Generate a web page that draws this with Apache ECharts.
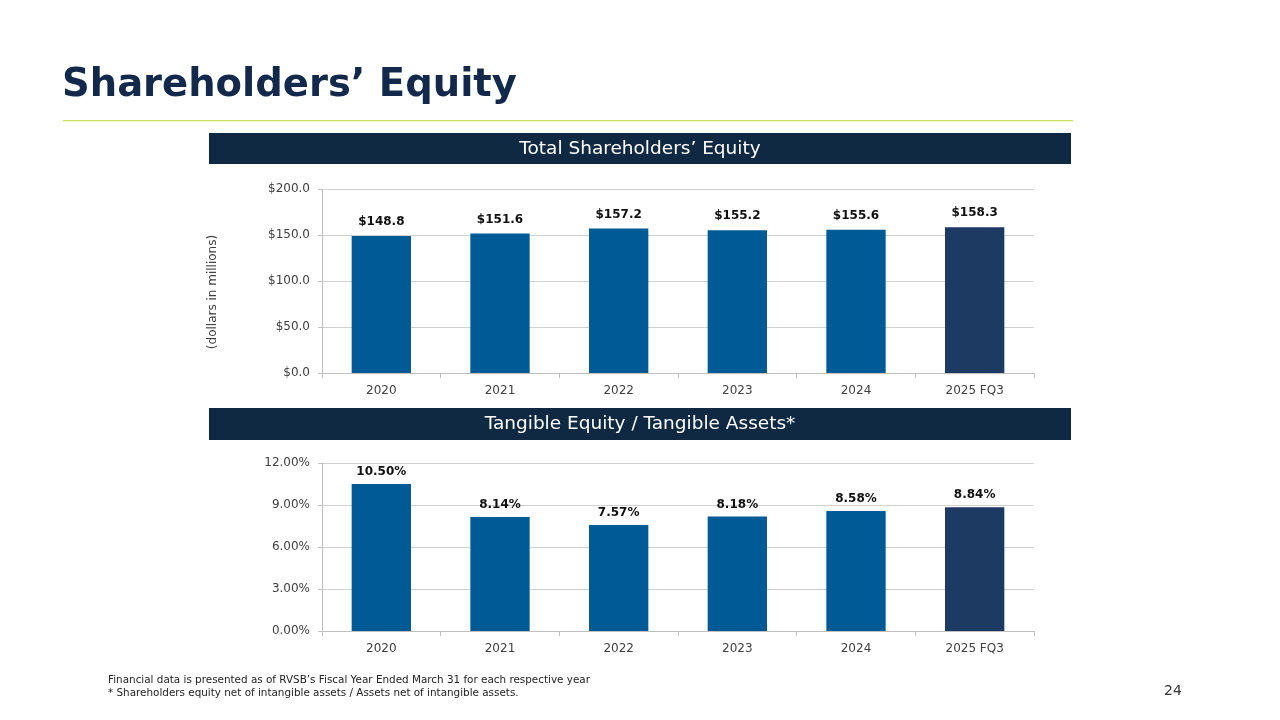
<!DOCTYPE html>
<html><head><meta charset="utf-8">
<script src="https://cdn.jsdelivr.net/npm/echarts@6/dist/echarts.min.js"></script>
<style>html,body{margin:0;padding:0;background:#fff}#c{width:1280px;height:720px}</style>
</head><body><div id="c"></div>
<script>
const categories = ['2020','2021','2022','2023','2024','2025 FQ3'];
const equityValues = [148.8, 151.6, 157.2, 155.2, 155.6, 158.3];
const tangibleRatio = [10.50, 8.14, 7.57, 8.18, 8.58, 8.84];
const equityTicks = [0, 50, 100, 150, 200];
const ratioTicks = [0, 3, 6, 9, 12];

const FONT = '"DejaVu Sans", sans-serif';
const barBlue = '#005A96';
const barNavy = '#1C3A62';
const axisGrey = '#BFBFBF';
const labelCol = '#404040';

function colorize(arr){
  return arr.map((v,i)=>({value:v, itemStyle:{color: i===arr.length-1?barNavy:barBlue}}));
}
const xAxisBase = {
  type:'category', data:categories,
  axisLine:{lineStyle:{color:axisGrey}},
  axisTick:{show:true, alignWithLabel:false, length:5, lineStyle:{color:axisGrey}},
  axisLabel:{color:labelCol, fontFamily:FONT, fontSize:12, margin:12}
};
const chart = echarts.init(document.getElementById('c'));
chart.setOption({
  animation:false,
  grid:[
    {left:322, right:246, top:189, height:184},
    {left:322, right:246, top:463, height:168}
  ],
  xAxis:[
    Object.assign({gridIndex:0}, xAxisBase),
    Object.assign({gridIndex:1}, xAxisBase)
  ],
  yAxis:[
    {gridIndex:0, type:'value', min:equityTicks[0], max:equityTicks[equityTicks.length-1], interval:50,
     axisLine:{show:true, lineStyle:{color:axisGrey}},
     axisTick:{show:true, length:4, lineStyle:{color:axisGrey}},
     splitLine:{lineStyle:{color:'#D0D0D0'}},
     axisLabel:{color:labelCol, fontFamily:FONT, fontSize:12, margin:12, formatter:v=>'$'+v.toFixed(1)}},
    {gridIndex:1, type:'value', min:ratioTicks[0], max:ratioTicks[ratioTicks.length-1], interval:3,
     axisLine:{show:true, lineStyle:{color:axisGrey}},
     axisTick:{show:true, length:4, lineStyle:{color:axisGrey}},
     splitLine:{lineStyle:{color:'#D0D0D0'}},
     axisLabel:{color:labelCol, fontFamily:FONT, fontSize:12, margin:12, formatter:v=>v.toFixed(2)+'%'}}
  ],
  series:[
    {type:'bar', xAxisIndex:0, yAxisIndex:0, data:colorize(equityValues), barWidth:'50%',
     label:{show:true, position:'top', distance:8, color:'#111', fontWeight:'bold', fontFamily:FONT, fontSize:12,
       formatter:p=>'$'+p.value.toFixed(1)}},
    {type:'bar', xAxisIndex:1, yAxisIndex:1, data:colorize(tangibleRatio), barWidth:'50%',
     label:{show:true, position:'top', distance:6, color:'#111', fontWeight:'bold', fontFamily:FONT, fontSize:12,
       formatter:p=>p.value.toFixed(2)+'%'}}
  ],
  graphic:[
    {type:'text', left:62, top:66, style:{text:'Shareholders\u2019 Equity', fill:'#13294B', font:'bold 38.5px '+FONT}},
    {type:'rect', shape:{x:63, y:120, width:1010, height:1.2}, style:{fill:'#C9DF5A'}},
    {type:'rect', shape:{x:209, y:133, width:862, height:31}, style:{fill:'#0F2942'}},
    {type:'text', x:640, y:149, style:{text:'Total Shareholders\u2019 Equity', fill:'#fff', font:'18.5px '+FONT, align:'center', verticalAlign:'middle'}},
    {type:'rect', shape:{x:209, y:408, width:862, height:32}, style:{fill:'#0F2942'}},
    {type:'text', x:640, y:424, style:{text:'Tangible Equity / Tangible Assets*', fill:'#fff', font:'18.5px '+FONT, align:'center', verticalAlign:'middle'}},
    {type:'text', x:213, y:292, rotation:Math.PI/2, style:{text:'(dollars in millions)', fill:labelCol, font:'12px '+FONT, align:'center', verticalAlign:'middle'}},
    {type:'text', left:108, top:675, style:{text:'Financial data is presented as of RVSB\u2019s Fiscal Year Ended March 31 for each respective year', fill:'#222', font:'10.4px '+FONT}},
    {type:'text', left:108, top:688, style:{text:'* Shareholders equity net of intangible assets / Assets net of intangible assets.', fill:'#222', font:'10.4px '+FONT}},
    {type:'text', left:1164, top:684, style:{text:'24', fill:'#333', font:'14px '+FONT}}
  ]
});
</script></body></html>
